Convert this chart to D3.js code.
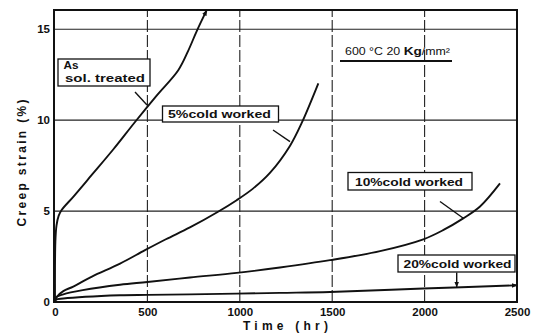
<!DOCTYPE html>
<html>
<head>
<meta charset="utf-8">
<script src="https://cdn.jsdelivr.net/npm/d3@7"></script>
<style>
  body { margin: 0; background: #fff; }
  svg { display: block; }
  text { font-family: "Liberation Sans", Arial, sans-serif; fill: #111; }
</style>
</head>
<body>
<svg id="chart" width="535" height="335"></svg>
<script>
// creep curves, 600 C 20 Kg/mm2, time in hr, strain in %
const asTreatedT = [0, 2, 8, 20, 35, 100, 200, 316, 433, 550, 667, 720, 767, 821];
const asTreatedY = [0, 3.3, 4.2, 4.75, 5.05, 5.8, 7.0, 8.4, 9.9, 11.35, 12.75, 13.8, 14.9, 16.05];

const cw5T = [0, 9, 45, 99, 200, 352, 487, 600, 730, 880, 983, 1073, 1163, 1272, 1335, 1425];
const cw5Y = [0, 0.28, 0.6, 0.85, 1.4, 2.11, 2.85, 3.45, 4.1, 4.95, 5.6, 6.25, 7.1, 8.6, 9.85, 12.03];

const cw10T = [0, 5, 45, 150, 352, 500, 730, 983, 1217, 1488, 1759, 1993, 2100, 2209, 2300, 2408];
const cw10Y = [0, 0.25, 0.42, 0.65, 0.95, 1.1, 1.35, 1.6, 1.9, 2.3, 2.8, 3.45, 3.95, 4.6, 5.25, 6.52];

const cw20T = [0, 5, 45, 352, 500, 730, 1217, 1488, 1993, 2500];
const cw20Y = [0, 0.12, 0.19, 0.37, 0.39, 0.42, 0.5, 0.55, 0.74, 0.92];

const xTicks = [0, 500, 1000, 1500, 2000, 2500];
const yTicks = [0, 5, 10, 15];

const svg = d3.select('#chart');

const x = d3.scaleLinear().domain([0, 2500]).range([55, 517]);
const y = d3.scaleLinear().domain([0, 16.06]).range([302, 10]);

const defs = svg.append('defs');
defs.append('marker')
  .attr('id', 'arrow')
  .attr('viewBox', '0 0 10 10')
  .attr('refX', 9).attr('refY', 5)
  .attr('markerWidth', 6).attr('markerHeight', 6)
  .attr('markerUnits', 'userSpaceOnUse')
  .attr('orient', 'auto')
  .append('path')
  .attr('d', 'M0,1 L10,5 L0,9 Z')
  .attr('fill', '#111');

// grid
svg.append('g')
  .selectAll('line')
  .data(yTicks.filter(d => d > 0))
  .join('line')
  .attr('x1', x(0)).attr('x2', x(2500))
  .attr('y1', d => y(d)).attr('y2', d => y(d))
  .attr('stroke', '#222').attr('stroke-width', 1.2);

svg.append('g')
  .selectAll('line')
  .data(xTicks.filter(d => d > 0 && d < 2500))
  .join('line')
  .attr('x1', d => x(d)).attr('x2', d => x(d))
  .attr('y1', y(0)).attr('y2', y.range()[1])
  .attr('stroke', '#222').attr('stroke-width', 1.1)
  .attr('stroke-dasharray', '12,3');

// axes
const xAxis = svg.append('g')
  .attr('transform', `translate(0,${y(0)})`)
  .call(d3.axisBottom(x).tickValues(xTicks).tickSize(0).tickPadding(6).tickFormat(d3.format('d')));
xAxis.select('.domain').remove();
xAxis.selectAll('text')
  .style('font-size', '11.5px').style('font-weight', 'bold').style('font-family', '"Liberation Sans", Arial, sans-serif')
  .attr('fill', '#111');

const yAxis = svg.append('g')
  .attr('transform', `translate(${x(0) - 1},0)`)
  .call(d3.axisLeft(y).tickValues(yTicks).tickSize(0).tickPadding(4));
yAxis.select('.domain').remove();
yAxis.selectAll('text')
  .style('font-size', '11.5px').style('font-weight', 'bold').style('font-family', '"Liberation Sans", Arial, sans-serif')
  .attr('fill', '#111');

// frame
svg.append('rect')
  .attr('x', x(0) - 1).attr('y', y.range()[1])
  .attr('width', x(2500) - x(0) + 1).attr('height', y(0) - y.range()[1])
  .attr('fill', 'none').attr('stroke', '#111').attr('stroke-width', 2);

// curves
const line = d3.line()
  .x(d => x(d[0]))
  .y(d => y(d[1]))
  .curve(d3.curveCatmullRom.alpha(0.5));

const series = [
  { t: asTreatedT, v: asTreatedY, arrow: true },
  { t: cw5T, v: cw5Y, arrow: false },
  { t: cw10T, v: cw10Y, arrow: false },
  { t: cw20T, v: cw20Y, arrow: true }
];

series.forEach(s => {
  svg.append('path')
    .datum(d3.zip(s.t, s.v))
    .attr('fill', 'none')
    .attr('stroke', '#111')
    .attr('stroke-width', 1.9)
    .attr('d', line)
    .attr('marker-end', s.arrow ? 'url(#arrow)' : null);
});

// labels
function boxLabel(x0, y0, x1, y1) {
  svg.append('rect')
    .attr('x', x0).attr('y', y0)
    .attr('width', x1 - x0).attr('height', y1 - y0)
    .attr('fill', '#fff').attr('stroke', '#111').attr('stroke-width', 1.3);
}
function label(txt, tx, ty, len, size) {
  svg.append('text')
    .attr('x', tx).attr('y', ty)
    .attr('textLength', len).attr('lengthAdjust', 'spacingAndGlyphs')
    .style('font-size', size + 'px').style('font-weight', 'bold')
    .text(txt);
}
function leader(x1, y1, x2, y2, arrow) {
  svg.append('line')
    .attr('x1', x1).attr('y1', y1).attr('x2', x2).attr('y2', y2)
    .attr('stroke', '#111').attr('stroke-width', 1.4)
    .attr('marker-end', arrow ? 'url(#arrow)' : null);
}

boxLabel(58, 59, 150, 86);
label('As', 63.5, 69.3, 15, 11.5);
label('sol. treated', 65, 82.3, 80, 11);
leader(135, 92, 147, 105);

boxLabel(162.5, 106, 278.5, 122);
label('5%cold worked', 168, 118.3, 103, 11.5);
leader(273, 130, 290, 141.7);

boxLabel(348, 172.5, 472, 190);
label('10%cold worked', 355, 186, 108, 11.5);
leader(440, 201.5, 463, 218);

boxLabel(398, 255, 515, 272);
label('20%cold worked', 403.5, 268.3, 108, 11.5);
leader(456.7, 272.5, 456.7, 287, true);

// test condition
const cond = svg.append('text')
  .attr('x', 345).attr('y', 55)
  .attr('textLength', 105).attr('lengthAdjust', 'spacingAndGlyphs')
  .style('font-size', '10px');
cond.append('tspan').text('600 °C 20 ');
cond.append('tspan').style('font-weight', 'bold').style('font-size', '11px').text('Kg');
cond.append('tspan').text('/mm²');
svg.append('line')
  .attr('x1', 340).attr('x2', 452).attr('y1', 61).attr('y2', 61)
  .attr('stroke', '#111').attr('stroke-width', 2);

// axis titles
svg.append('text')
  .attr('transform', 'translate(26,163) rotate(-90)')
  .attr('text-anchor', 'middle')
  .attr('textLength', 127).attr('lengthAdjust', 'spacing')
  .style('font-size', '12px').style('font-weight', 'bold')
  .text('Creep strain  (%)');

svg.append('text')
  .attr('x', 243).attr('y', 330)
  .attr('textLength', 85).attr('lengthAdjust', 'spacing')
  .style('font-size', '12px').style('font-weight', 'bold')
  .text('Time  (hr)');
</script>
</body>
</html>
